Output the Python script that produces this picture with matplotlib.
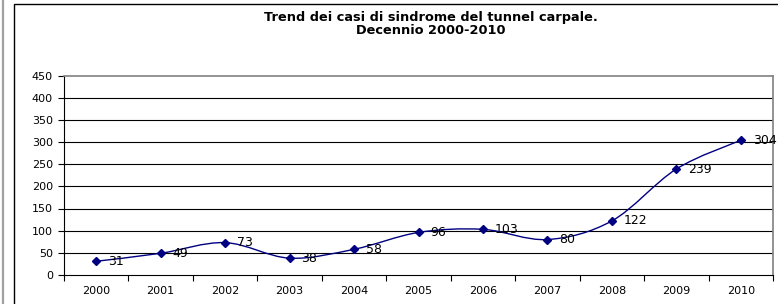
import matplotlib.pyplot as plt
from matplotlib.path import Path
from matplotlib.patches import PathPatch, Rectangle
from matplotlib.lines import Line2D

# data
years = ['2000', '2001', '2002', '2003', '2004', '2005', '2006', '2007', '2008', '2009', '2010']
cases = [31, 49, 73, 38, 58, 96, 103, 80, 122, 239, 304]
yticks = [0, 50, 100, 150, 200, 250, 300, 350, 400, 450]
title_lines = ['Trend dei casi di sindrome del tunnel carpale.', 'Decennio 2000-2010']

plt.rcParams['font.family'] = ['DejaVu Sans']

W, H = 778, 304
fig = plt.figure(figsize=(W / 100, H / 100), dpi=100)

# outer frames
fig.add_artist(Line2D([2.5 / W, 2.5 / W], [0, 1], color='#a0a0a0', lw=1.6))
fig.add_artist(Rectangle((14 / W, -0.1), 2, 1.1 - 3.5 / H, transform=fig.transFigure,
                         fill=False, edgecolor='black', lw=1.0))

ax = fig.add_axes([64 / W, 29 / H, 709 / W, 199.5 / H])
x = list(range(len(years)))

# smoothed line (Excel style bezier) built from the data points
verts = [(x[0], cases[0])]
codes = [Path.MOVETO]
n = len(x)
for i in range(n - 1):
    p0 = (x[max(i - 1, 0)], cases[max(i - 1, 0)])
    p1 = (x[i], cases[i])
    p2 = (x[i + 1], cases[i + 1])
    p3 = (x[min(i + 2, n - 1)], cases[min(i + 2, n - 1)])
    c1 = (p1[0] + (p2[0] - p0[0]) / 6, p1[1] + (p2[1] - p0[1]) / 6)
    c2 = (p2[0] - (p3[0] - p1[0]) / 6, p2[1] - (p3[1] - p1[1]) / 6)
    verts += [c1, c2, p2]
    codes += [Path.CURVE4, Path.CURVE4, Path.CURVE4]
ax.add_patch(PathPatch(Path(verts, codes), facecolor='none', edgecolor='#000080', lw=1.0, zorder=3))
ax.plot(x, cases, linestyle='none', marker='D', markersize=4.2, color='#000080', zorder=4)

for xi, v in zip(x, cases):
    ax.annotate(str(v), (xi, v), xytext=(8.5, 0), textcoords='offset points',
                va='center', ha='left', fontsize=9, color='black', zorder=5)

ax.set_xlim(-0.5, n - 0.5)
ax.set_ylim(0, 450)
ax.set_yticks(yticks)
ax.set_xticks(x)
ax.set_xticklabels(years)
ax.set_xticks([i - 0.5 for i in range(n + 1)], minor=True)
ax.tick_params(axis='x', which='major', length=0, pad=8, labelsize=8)
ax.tick_params(axis='x', which='minor', length=4, width=0.8, direction='out')
ax.tick_params(axis='y', length=4, width=0.8, pad=4, labelsize=8)

for yv in yticks[1:-1]:
    ax.axhline(yv, color='black', lw=0.8, zorder=1)

ax.spines['top'].set_color('#808080')
ax.spines['right'].set_color('#808080')
ax.spines['top'].set_linewidth(1.2)
ax.spines['right'].set_linewidth(1.2)
ax.spines['left'].set_linewidth(0.8)
ax.spines['bottom'].set_linewidth(0.8)

fig.text(431 / W, 1 - 17 / H, title_lines[0], ha='center', va='center',
         fontsize=9.3, fontweight='bold')
fig.text(431 / W, 1 - 31 / H, title_lines[1], ha='center', va='center',
         fontsize=9.3, fontweight='bold')

fig.savefig('out.png', dpi=100)
